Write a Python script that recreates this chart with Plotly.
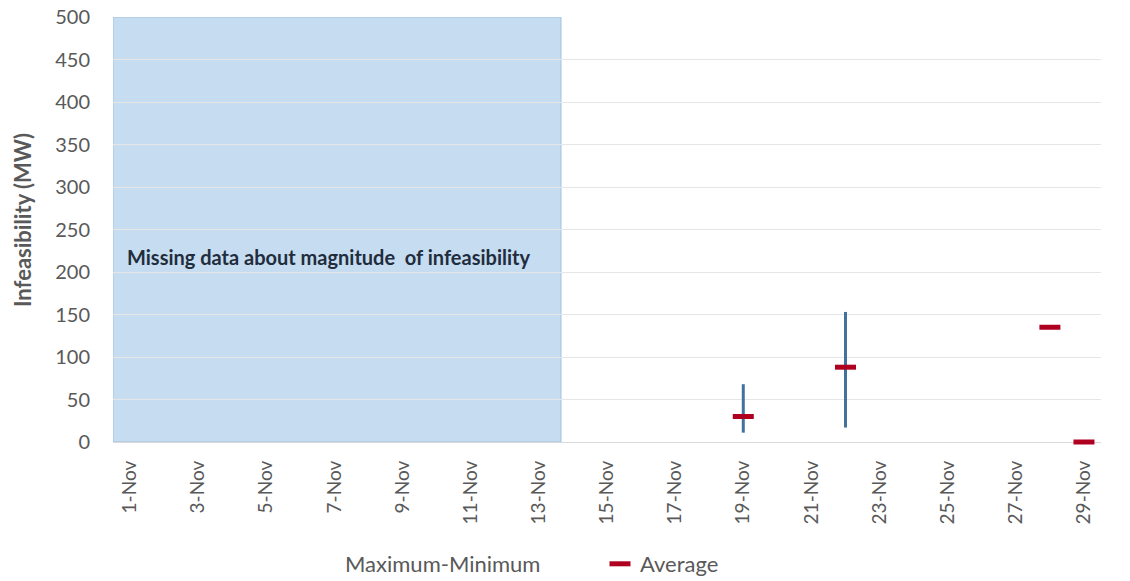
import plotly.graph_objects as go

days = [f"{d}-Nov" for d in range(1, 30)]
tick_labels = days[::2]

range_days = ["19-Nov", "22-Nov"]
max_vals = [68, 153]
min_vals = [11, 17]
range_mid = [(a + b) / 2 for a, b in zip(max_vals, min_vals)]

avg_days = ["19-Nov", "22-Nov", "28-Nov", "29-Nov"]
avg_vals = [30, 88, 135, 0]

missing_start = -0.5
missing_end = 12.65
missing_top = 500
missing_text = "Missing data about magnitude  of infeasibility"
y_title = "Infeasibility (MW)"

font_family = "Lato, 'Open Sans', sans-serif"
gray = "#595959"

L, T, W_PLOT, H_PLOT = 113, 17, 988, 425
BOTTOM = T + H_PLOT

fig = go.Figure()

fig.add_trace(go.Scatter(
    x=range_days, y=range_mid, mode="markers", name="Maximum-Minimum",
    marker=dict(opacity=0, size=1, color="rgba(0,0,0,0)",
                line=dict(width=0, color="rgba(0,0,0,0)")),
    error_y=dict(type="data", symmetric=False,
                 array=[a - m for a, m in zip(max_vals, range_mid)],
                 arrayminus=[m - b for m, b in zip(range_mid, min_vals)],
                 color="#41719C", thickness=3, width=0),
    cliponaxis=False,
))

fig.add_trace(go.Scatter(
    x=avg_days, y=avg_vals, mode="markers", name="Average",
    marker=dict(symbol="line-ew", size=15, line=dict(color="#B00020", width=5)),
    cliponaxis=False,
))

fig.add_shape(type="rect", xref="x", yref="y",
              x0=missing_start, x1=missing_end, y0=0, y1=missing_top,
              fillcolor="#C6DCF0", line=dict(color="#A3C1DE", width=1),
              layer="below")

fig.add_annotation(x=(125 - L) / W_PLOT, y=218, xref="paper", yref="y",
                   text=missing_text,
                   showarrow=False, xanchor="left", yanchor="middle",
                   font=dict(family=font_family, size=20, color="#1F2D3D",
                             weight="bold"))

fig.add_annotation(x=(22 - L) / W_PLOT, y=(BOTTOM - 220) / H_PLOT,
                   xref="paper", yref="paper", text=f"<b>{y_title}</b>",
                   showarrow=False, textangle=-90, xanchor="center", yanchor="middle",
                   font=dict(family=font_family, size=22, color=gray))

fig.update_layout(
    width=1130, height=581,
    margin=dict(l=L, r=1130 - L - W_PLOT, t=T, b=581 - BOTTOM, autoexpand=False),
    plot_bgcolor="white", paper_bgcolor="white",
    font=dict(family=font_family, color=gray, size=20),
    showlegend=True,
    legend=dict(orientation="h", x=(305 - L) / W_PLOT, xref="paper", xanchor="left",
                y=(BOTTOM - 564) / H_PLOT, yanchor="middle",
                font=dict(size=22, color=gray), entrywidth=250,
                traceorder="normal"),
    xaxis=dict(type="category", categoryorder="array", categoryarray=days,
               range=[-0.5, 28.5], tickmode="array", tickvals=tick_labels,
               ticktext=tick_labels, tickangle=-90, showgrid=False,
               ticks="", showline=False, zeroline=False, automargin=False,
               ticklabelstandoff=14, ticklabeloverflow="allow",
               tickfont=dict(size=19, color=gray)),
    yaxis=dict(range=[0, 500], tickvals=list(range(0, 501, 50)),
               showgrid=True, gridcolor="#E6E6E6", gridwidth=1,
               zeroline=True, zerolinecolor="#D9D9D9", zerolinewidth=1,
               showline=False, ticks="", automargin=False,
               ticklabelstandoff=22, ticklabeloverflow="allow",
               tickfont=dict(size=20, color=gray)),
)

fig.write_html("out.html", config={"displayModeBar": False},
               post_script="document.body.style.margin='0';document.body.style.overflow='hidden';")
